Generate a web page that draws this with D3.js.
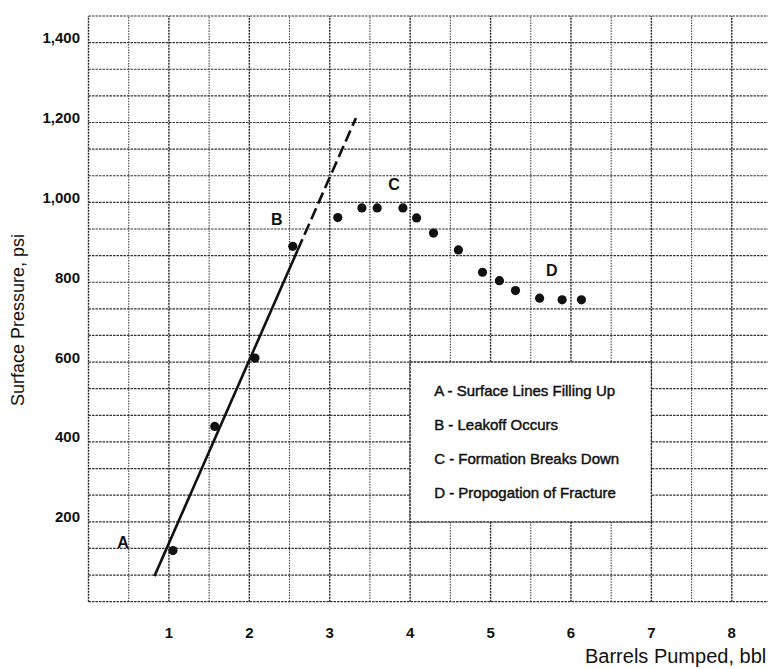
<!DOCTYPE html>
<html><head><meta charset="utf-8">
<script src="https://cdn.jsdelivr.net/npm/d3@7"></script>
<style>
html,body{margin:0;padding:0;background:#fff;}
svg{display:block;font-family:"Liberation Sans",Arial,sans-serif;}
</style></head>
<body><svg id="c" width="768" height="669"></svg>
<script>
// ---- data ----
const barrels  = [1.05, 1.57, 2.07, 2.54, 3.10, 3.40, 3.59, 3.91, 4.08, 4.29, 4.60, 4.90, 5.11, 5.31, 5.61, 5.89, 6.13];
const pressure = [128, 439, 610, 890, 962, 986, 986, 986, 961, 923, 881, 825, 804, 779, 760, 756, 756];
const fitSolidX = [0.82, 2.60];
const fitSolidY = [64, 880];
const fitDashX  = [2.60, 3.325];
const fitDashY  = [880, 1211];
const xTicks = [1, 2, 3, 4, 5, 6, 7, 8];
const yTicks = [200, 400, 600, 800, 1000, 1200, 1400];
const markLetters = ["A", "B", "C", "D"];
const markX = [0.43, 2.34, 3.80, 5.76];
const markY = [150, 958, 1046, 830];
const legendLines = ["A - Surface Lines Filling Up", "B - Leakoff Occurs", "C - Formation Breaks Down", "D - Propogation of Fracture"];
const legendBox = {x0: 4, x1: 7, y0: 200, y1: 600};

// ---- scales ----
const svg = d3.select("#c");
const x = d3.scaleLinear().domain([0, 8.5]).range([88.5, 772]);
const y = d3.scaleLinear().domain([0, 1466.7]).range([601.7, 16]);

// grid
const g = svg.append("g");
const vLines = d3.range(0, 17).map(i => i * 0.5);
g.selectAll("line.v").data(vLines).join("line")
  .attr("x1", d => x(d)).attr("x2", d => x(d))
  .attr("y1", y(0)).attr("y2", y(1466.7))
  .attr("stroke", d => Number.isInteger(d) ? "#222" : "#444")
  .attr("stroke-width", d => Number.isInteger(d) ? 1.4 : 1.1)
  .attr("stroke-dasharray", d => Number.isInteger(d) ? "2,1" : "1.5,1.2");
const hLines = d3.range(0, 23).map(i => i * 1466.7 / 22);
g.selectAll("line.h").data(hLines).join("line")
  .attr("x1", x(0)).attr("x2", x(8.5))
  .attr("y1", d => y(d)).attr("y2", d => y(d))
  .attr("stroke", "#333").attr("stroke-width", 1.2)
  .attr("stroke-dasharray", "2.5,1");

// legend box (covers grid)
svg.append("rect")
  .attr("x", x(legendBox.x0)).attr("y", y(legendBox.y1))
  .attr("width", x(legendBox.x1) - x(legendBox.x0))
  .attr("height", y(legendBox.y0) - y(legendBox.y1))
  .attr("fill", "#fff").attr("stroke", "#222").attr("stroke-width", 1.3)
  .attr("stroke-dasharray", "2.5,1");
svg.selectAll("text.leg").data(legendLines).join("text")
  .attr("x", x(legendBox.x0) + 24)
  .attr("y", (d, i) => y(legendBox.y1) + 34 + i * 34)
  .attr("font-size", 15).attr("fill", "#111")
  .attr("stroke", "#111").attr("stroke-width", 0.45)
  .text(d => d);

// fit line
const line = d3.line().x(d => x(d[0])).y(d => y(d[1]));
svg.append("path").datum(d3.zip(fitSolidX, fitSolidY))
  .attr("d", line).attr("stroke", "#111").attr("stroke-width", 2.6).attr("fill", "none");
svg.append("path").datum(d3.zip(fitDashX, fitDashY))
  .attr("d", line).attr("stroke", "#111").attr("stroke-width", 2.6).attr("fill", "none")
  .attr("stroke-dasharray", "12,5");

// points
svg.selectAll("circle").data(d3.zip(barrels, pressure)).join("circle")
  .attr("cx", d => x(d[0])).attr("cy", d => y(d[1])).attr("r", 4.6).attr("fill", "#111");

// letters
svg.selectAll("text.mk").data(markLetters).join("text")
  .attr("x", (d, i) => x(markX[i])).attr("y", (d, i) => y(markY[i]) + 6)
  .attr("text-anchor", "middle").attr("font-size", 16).attr("font-weight", "bold")
  .attr("fill", "#111").text(d => d);

// tick labels
svg.selectAll("text.xt").data(xTicks).join("text")
  .attr("x", d => x(d)).attr("y", 638)
  .attr("text-anchor", "middle").attr("font-size", 15).attr("font-weight", "bold")
  .attr("fill", "#111").text(d => d);
svg.selectAll("text.yt").data(yTicks).join("text")
  .attr("x", 80).attr("y", d => y(d) + 0.5)
  .attr("text-anchor", "end").attr("font-size", 15).attr("font-weight", "bold")
  .attr("fill", "#111").text(d => d3.format(",")(d));

// axis titles
svg.append("text").attr("x", 585).attr("y", 663)
  .attr("font-size", 20).attr("fill", "#111").text("Barrels Pumped, bbl");
svg.append("text").attr("transform", "translate(24,320) rotate(-90)")
  .attr("text-anchor", "middle").attr("font-size", 18).attr("fill", "#111")
  .text("Surface Pressure, psi");
</script></body></html>
